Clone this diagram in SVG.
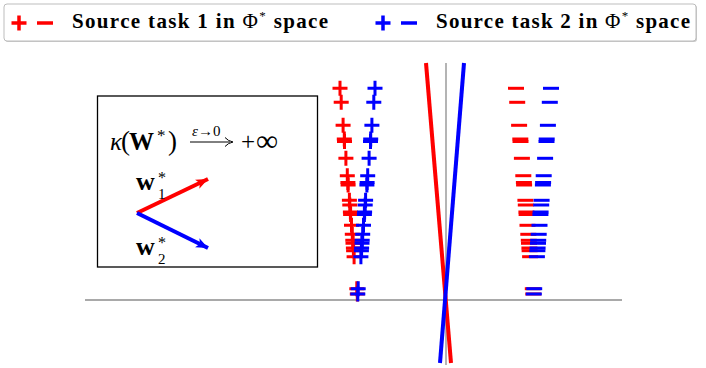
<svg xmlns="http://www.w3.org/2000/svg" xmlns:xlink="http://www.w3.org/1999/xlink" width="706" height="368" viewBox="0 0 706 368">
<style>
.r{stroke:#ff0000;fill:none;stroke-width:3}
.b{stroke:#0000ff;fill:none;stroke-width:3}
.axis{stroke:#8c8c8c;stroke-width:1.3;fill:none}
.leg{font-family:"Liberation Serif","DejaVu Serif",serif;font-size:21px;font-weight:bold;fill:#000}
.math{font-family:"Liberation Serif","DejaVu Serif",serif;fill:#000}
</style>
<defs>
<path id="pl" d="M-7.5,0H7.5M0,-7.5V7.5"/>
<path id="mi" d="M-8,0H8"/>
<marker id="ahR" markerUnits="userSpaceOnUse" markerWidth="14" markerHeight="14" refX="12" refY="6" orient="auto" viewBox="0 0 14 12"><path d="M0,1 L12,6 L0,11 L3,6 Z" fill="#ff0000"/></marker>
<marker id="ahB" markerUnits="userSpaceOnUse" markerWidth="14" markerHeight="14" refX="12" refY="6" orient="auto" viewBox="0 0 14 12"><path d="M0,1 L12,6 L0,11 L3,6 Z" fill="#0000ff"/></marker>
</defs>

<g id="legend">
<rect x="5" y="5" width="692" height="37" rx="3" fill="#c8c8c8"/>
<rect x="4" y="4" width="692" height="37" rx="3" fill="#fff" stroke="#bdbdbd" stroke-width="1"/>
<use xlink:href="#pl" x="19" y="23" class="r" style="stroke-width:3.5"/>
<use xlink:href="#mi" x="45" y="23" class="r" style="stroke-width:3.5"/>
<text x="72" y="28" class="leg" textLength="256">Source task 1 in <tspan font-weight="normal">Φ</tspan><tspan font-weight="normal" font-size="13" dy="-8">*</tspan><tspan dy="8"> space</tspan></text>
<use xlink:href="#pl" x="383" y="23" class="b" style="stroke-width:3.5"/>
<use xlink:href="#mi" x="409" y="23" class="b" style="stroke-width:3.5"/>
<text x="436" y="28" class="leg" textLength="254">Source task 2 in <tspan font-weight="normal">Φ</tspan><tspan font-weight="normal" font-size="13" dy="-8">*</tspan><tspan dy="8"> space</tspan></text>
</g>

<g id="axes">
<line x1="85" y1="300" x2="622" y2="300" class="axis"/>
<line x1="446" y1="63" x2="446" y2="365" class="axis"/>
</g>

<g id="inset">
<rect x="97.5" y="96" width="220" height="171" fill="#fff" stroke="#000" stroke-width="1.3"/>
<text class="math" y="150" font-size="25"><tspan x="110" font-style="italic">κ</tspan><tspan x="121" font-size="27">(</tspan><tspan x="129" font-weight="bold" font-size="25">W</tspan><tspan x="157" y="141" font-size="17">*</tspan><tspan x="168" y="150" font-size="27">)</tspan></text>
<text class="math" x="192" y="136" font-size="15" font-style="italic">ε<tspan font-style="normal">→0</tspan></text>
<line x1="190" y1="142" x2="230" y2="142" stroke="#000" stroke-width="1"/>
<path d="M225,137.5 Q228,141 233,142 Q228,143 225,146.5" fill="none" stroke="#000" stroke-width="1"/>
<text class="math" y="150" font-size="25"><tspan x="241">+</tspan><tspan x="256" font-size="31" y="151">∞</tspan></text>
<line x1="137" y1="213" x2="208" y2="179" stroke="#ff0000" stroke-width="4" marker-end="url(#ahR)"/>
<line x1="137" y1="213" x2="208" y2="248" stroke="#0000ff" stroke-width="4" marker-end="url(#ahB)"/>
<text class="math" x="136" y="190" font-size="26" font-weight="bold">w</text>
<text class="math" x="158" y="183" font-size="16">*</text>
<text class="math" x="158" y="199" font-size="15">1</text>
<text class="math" x="136" y="255" font-size="26" font-weight="bold">w</text>
<text class="math" x="158" y="248" font-size="16">*</text>
<text class="math" x="158" y="264" font-size="15">2</text>
</g>

<g id="connectors">
<line x1="426" y1="63" x2="451" y2="363" stroke="#ff0000" stroke-width="4"/>
<line x1="464" y1="63" x2="440" y2="363" stroke="#0000ff" stroke-width="4"/>
</g>

<g id="plus-red" class="r">
<use xlink:href="#pl" x="340.0" y="88.3"/>
<use xlink:href="#pl" x="341.2" y="102.3"/>
<use xlink:href="#pl" x="343.1" y="125.3"/>
<use xlink:href="#pl" x="344.3" y="139"/>
<use xlink:href="#pl" x="344.5" y="141.5"/>
<use xlink:href="#pl" x="345.9" y="158.3"/>
<use xlink:href="#pl" x="347.3" y="175.7"/>
<use xlink:href="#pl" x="347.9" y="182.5"/>
<use xlink:href="#pl" x="348.1" y="185"/>
<use xlink:href="#pl" x="349.4" y="200.3"/>
<use xlink:href="#pl" x="349.8" y="205"/>
<use xlink:href="#pl" x="350.4" y="212"/>
<use xlink:href="#pl" x="350.6" y="214.5"/>
<use xlink:href="#pl" x="351.5" y="225.3"/>
<use xlink:href="#pl" x="352.3" y="234.3"/>
<use xlink:href="#pl" x="352.8" y="240.3"/>
<use xlink:href="#pl" x="353.0" y="243.3"/>
<use xlink:href="#pl" x="353.4" y="248"/>
<use xlink:href="#pl" x="353.6" y="250.7"/>
<use xlink:href="#pl" x="354.1" y="256.7"/>
<use xlink:href="#pl" x="356.8" y="288.7"/>
<use xlink:href="#pl" x="357.3" y="294"/>
</g>
<g id="plus-blue" class="b">
<use xlink:href="#pl" x="375.0" y="88.3"/>
<use xlink:href="#pl" x="373.8" y="102.3"/>
<use xlink:href="#pl" x="371.9" y="125.3"/>
<use xlink:href="#pl" x="370.7" y="139"/>
<use xlink:href="#pl" x="370.5" y="141.5"/>
<use xlink:href="#pl" x="369.1" y="158.3"/>
<use xlink:href="#pl" x="367.7" y="175.7"/>
<use xlink:href="#pl" x="367.1" y="182.5"/>
<use xlink:href="#pl" x="366.9" y="185"/>
<use xlink:href="#pl" x="365.6" y="200.3"/>
<use xlink:href="#pl" x="365.2" y="205"/>
<use xlink:href="#pl" x="364.6" y="212"/>
<use xlink:href="#pl" x="364.4" y="214.5"/>
<use xlink:href="#pl" x="363.5" y="225.3"/>
<use xlink:href="#pl" x="362.7" y="234.3"/>
<use xlink:href="#pl" x="362.2" y="240.3"/>
<use xlink:href="#pl" x="362.0" y="243.3"/>
<use xlink:href="#pl" x="361.6" y="248"/>
<use xlink:href="#pl" x="361.4" y="250.7"/>
<use xlink:href="#pl" x="360.9" y="256.7"/>
<use xlink:href="#pl" x="358.2" y="288.7"/>
<use xlink:href="#pl" x="357.8" y="294"/>
</g>

<g id="minus-red" class="r">
<use xlink:href="#mi" x="516.0" y="88.3"/>
<use xlink:href="#mi" x="517.2" y="102.3"/>
<use xlink:href="#mi" x="519.1" y="125.3"/>
<use xlink:href="#mi" x="520.3" y="139"/>
<use xlink:href="#mi" x="520.5" y="141.5"/>
<use xlink:href="#mi" x="521.9" y="158.3"/>
<use xlink:href="#mi" x="523.3" y="175.7"/>
<use xlink:href="#mi" x="523.9" y="182.5"/>
<use xlink:href="#mi" x="524.1" y="185"/>
<use xlink:href="#mi" x="525.4" y="200.3"/>
<use xlink:href="#mi" x="525.8" y="205"/>
<use xlink:href="#mi" x="526.4" y="212"/>
<use xlink:href="#mi" x="526.6" y="214.5"/>
<use xlink:href="#mi" x="527.5" y="225.3"/>
<use xlink:href="#mi" x="528.3" y="234.3"/>
<use xlink:href="#mi" x="528.8" y="240.3"/>
<use xlink:href="#mi" x="529.0" y="243.3"/>
<use xlink:href="#mi" x="529.4" y="248"/>
<use xlink:href="#mi" x="529.6" y="250.7"/>
<use xlink:href="#mi" x="530.1" y="256.7"/>
<use xlink:href="#mi" x="532.8" y="288.7"/>
<use xlink:href="#mi" x="533.3" y="294"/>
</g>
<g id="minus-blue" class="b">
<use xlink:href="#mi" x="551.0" y="88.3"/>
<use xlink:href="#mi" x="549.8" y="102.3"/>
<use xlink:href="#mi" x="547.9" y="125.3"/>
<use xlink:href="#mi" x="546.7" y="139"/>
<use xlink:href="#mi" x="546.5" y="141.5"/>
<use xlink:href="#mi" x="545.1" y="158.3"/>
<use xlink:href="#mi" x="543.7" y="175.7"/>
<use xlink:href="#mi" x="543.1" y="182.5"/>
<use xlink:href="#mi" x="542.9" y="185"/>
<use xlink:href="#mi" x="541.6" y="200.3"/>
<use xlink:href="#mi" x="541.2" y="205"/>
<use xlink:href="#mi" x="540.6" y="212"/>
<use xlink:href="#mi" x="540.4" y="214.5"/>
<use xlink:href="#mi" x="539.5" y="225.3"/>
<use xlink:href="#mi" x="538.7" y="234.3"/>
<use xlink:href="#mi" x="538.2" y="240.3"/>
<use xlink:href="#mi" x="538.0" y="243.3"/>
<use xlink:href="#mi" x="537.6" y="248"/>
<use xlink:href="#mi" x="537.4" y="250.7"/>
<use xlink:href="#mi" x="536.9" y="256.7"/>
<use xlink:href="#mi" x="534.2" y="288.7"/>
<use xlink:href="#mi" x="533.8" y="294"/>
</g>
</svg>
